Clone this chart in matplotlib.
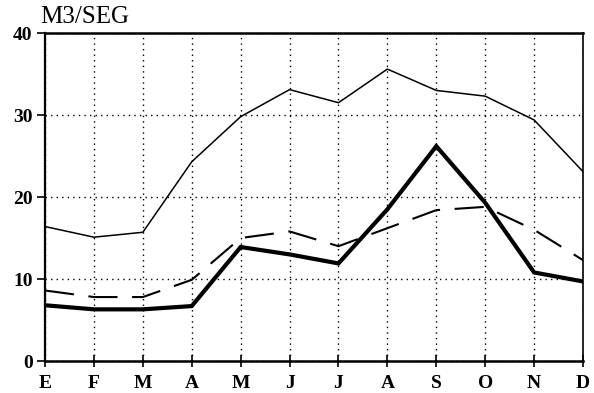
import matplotlib
matplotlib.use("Agg")
import matplotlib.pyplot as plt

meses = ["E", "F", "M", "A", "M", "J", "J", "A", "S", "O", "N", "D"]

# caudales medios mensuales (m3/seg)
maximo = [16.4, 15.1, 15.7, 24.3, 29.8, 33.1, 31.5, 35.6, 33.0, 32.3, 29.4, 23.1]
medio = [8.6, 7.8, 7.8, 9.9, 15.0, 15.8, 14.0, 16.2, 18.4, 18.8, 16.0, 12.3]
minimo = [6.8, 6.3, 6.3, 6.7, 13.9, 13.0, 11.9, 18.5, 26.2, 19.3, 10.8, 9.7]

plt.rcParams["font.family"] = ["Liberation Serif", "DejaVu Serif"]

fig = plt.figure(figsize=(5.94, 3.93), dpi=100)
ax = fig.add_axes([0.0758, 0.0814, 0.9057, 0.8346])

x = list(range(len(meses)))
ax.plot(x, maximo, color="black", lw=1.1)
ax.plot(x, medio, color="black", lw=1.5, dashes=(14, 7))
ax.plot(x, minimo, color="black", lw=3.0, solid_joinstyle="miter")

ax.set_xlim(0, 11)
ax.set_ylim(0, 40)
ax.set_xticks(x)
ax.set_xticklabels(meses)
ax.set_yticks([0, 10, 20, 30, 40])

ax.grid(True, color="black", linestyle=(0, (1, 3)), linewidth=1.0)

for s in ax.spines.values():
    s.set_linewidth(1.2)
ax.spines["top"].set_linewidth(1.8)
ax.spines["bottom"].set_linewidth(1.8)
ax.spines["left"].set_linewidth(1.6)

ax.tick_params(axis="x", direction="inout", length=8, width=1.2, labelsize=14, pad=6)
ax.tick_params(axis="y", direction="out", length=6, width=1.2, labelsize=14, pad=3)
for lab in ax.get_xticklabels() + ax.get_yticklabels():
    lab.set_fontweight("bold")

fig.text(0.067, 0.928, "M3/SEG", fontsize=18, ha="left", va="bottom")

fig.savefig("out.png", dpi=100)
